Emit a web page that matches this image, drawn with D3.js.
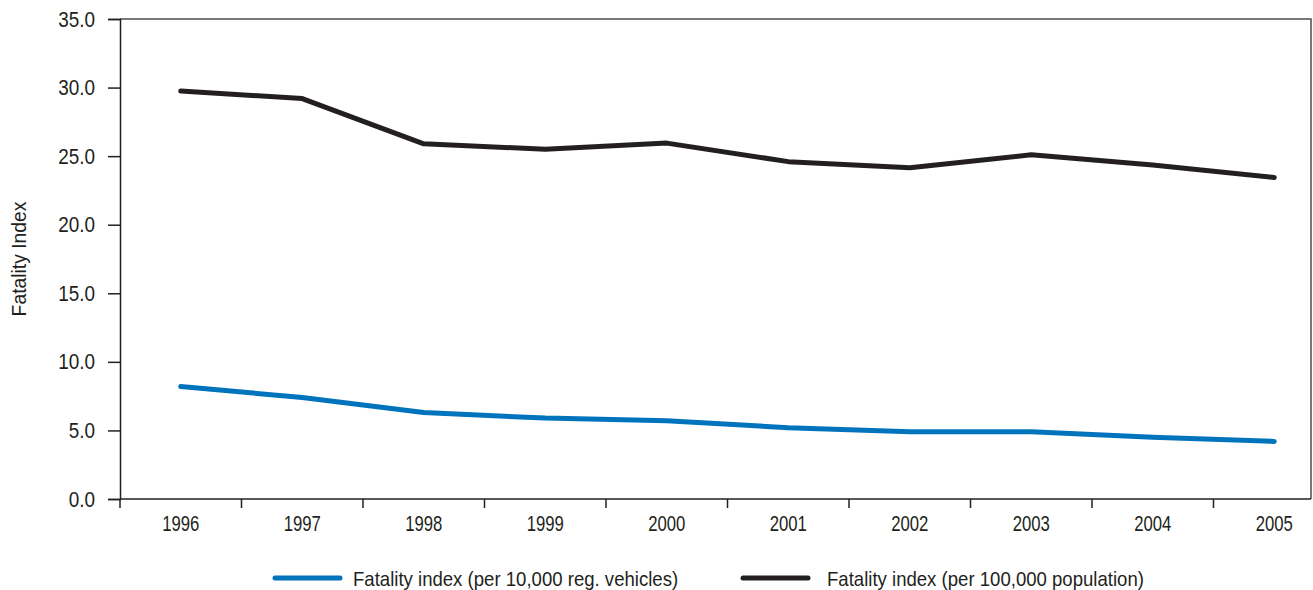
<!DOCTYPE html>
<html>
<head>
<meta charset="utf-8">
<script src="https://cdn.jsdelivr.net/npm/d3@7"></script>
<style>
  body { margin: 0; background: #fff; }
  text { font-family: "Liberation Sans", Arial, sans-serif; fill: #231f20; }
</style>
</head>
<body>
<svg id="chart" width="1313" height="590"></svg>
<script>
const years = ['1996', '1997', '1998', '1999', '2000', '2001', '2002', '2003', '2004', '2005'];
const perVehicles = [8.2, 7.4, 6.3, 5.9, 5.7, 5.2, 4.9, 4.9, 4.5, 4.2];
const perPopulation = [29.75, 29.2, 25.9, 25.5, 25.95, 24.6, 24.15, 25.1, 24.35, 23.45];
const yTicks = [0, 5, 10, 15, 20, 25, 30, 35];

const series = [
  { name: 'Fatality index (per 10,000 reg. vehicles)', values: perVehicles, color: '#0073bd' },
  { name: 'Fatality index (per 100,000 population)', values: perPopulation, color: '#231f20' }
];

const svg = d3.select('#chart');
const plotLeft = 120, plotTop = 19, plotBottom = 499, frameRight = 1311;

// no condensed face installed, so squeeze the text horizontally instead
function condense(sel, k, x, y) {
  sel.each(function (d, i) {
    const tx = typeof x === 'function' ? x(d, i) : x;
    const ty = typeof y === 'function' ? y(d, i) : y;
    d3.select(this).attr('x', 0).attr('y', 0)
      .attr('transform', `translate(${tx},${ty}) scale(${k},1)`);
  });
}

// the category axis runs a little past the visible frame in the original
const x = d3.scaleBand().domain(years).range([plotLeft, plotLeft + 121.5 * years.length]);
const y = d3.scaleLinear().domain([0, 35]).range([plotBottom, plotTop]);

// plot frame (top and right)
svg.append('path')
  .attr('d', `M${plotLeft},${plotTop}H${frameRight}V${plotBottom}`)
  .attr('fill', 'none')
  .attr('stroke', '#4d4d4d')
  .attr('stroke-width', 1.5);

// y axis
const yAxis = svg.append('g')
  .attr('transform', `translate(${plotLeft},0)`)
  .call(d3.axisLeft(y).tickValues(yTicks).tickFormat(d3.format('.1f')).tickSize(12).tickPadding(12));
yAxis.select('.domain').attr('stroke', '#231f20').attr('stroke-width', 1.5);
yAxis.selectAll('.tick line').attr('stroke', '#231f20').attr('stroke-width', 1.5);
yAxis.selectAll('.tick text')
  .attr('font-size', 22).attr('font-family', null).attr('fill', '#231f20')
  .call(condense, 0.86, -25, 0);

// x axis: ticks at category boundaries
svg.append('line')
  .attr('x1', plotLeft).attr('x2', frameRight)
  .attr('y1', plotBottom).attr('y2', plotBottom)
  .attr('stroke', '#231f20').attr('stroke-width', 1.5);
svg.append('g').selectAll('line')
  .data(years)
  .join('line')
  .attr('x1', d => x(d)).attr('x2', d => x(d))
  .attr('y1', plotBottom).attr('y2', plotBottom + 9)
  .attr('stroke', '#231f20').attr('stroke-width', 1.5);
svg.append('g').selectAll('text')
  .data(years)
  .join('text')
  .attr('text-anchor', 'middle')
  .attr('font-size', 22)
  .text(d => d)
  .call(condense, 0.76, d => x(d) + x.bandwidth() / 2, 531);

// y axis title
svg.append('text')
  .attr('transform', `translate(26,${(plotTop + plotBottom) / 2}) rotate(-90) scale(0.92,1)`)
  .attr('text-anchor', 'middle')
  .attr('font-size', 21)
  .text('Fatality Index');

// lines
const line = d3.line()
  .x((d, i) => x(years[i]) + x.bandwidth() / 2)
  .y(d => y(d));

svg.append('g').selectAll('path')
  .data(series)
  .join('path')
  .attr('d', d => line(d.values))
  .attr('fill', 'none')
  .attr('stroke', d => d.color)
  .attr('stroke-width', 5)
  .attr('stroke-linecap', 'round')
  .attr('stroke-linejoin', 'round');

// legend
const legendX = [275, 743];
const legend = svg.append('g').selectAll('g')
  .data(series)
  .join('g')
  .attr('transform', (d, i) => `translate(${legendX[i]},578)`);
legend.append('line')
  .attr('x1', 0).attr('x2', 65)
  .attr('stroke', d => d.color)
  .attr('stroke-width', 5)
  .attr('stroke-linecap', 'round');
legend.append('text')
  .attr('font-size', 21)
  .text(d => d.name)
  .call(condense, 0.885, (d, i) => i === 0 ? 78 : 84, 8);
</script>
</body>
</html>
